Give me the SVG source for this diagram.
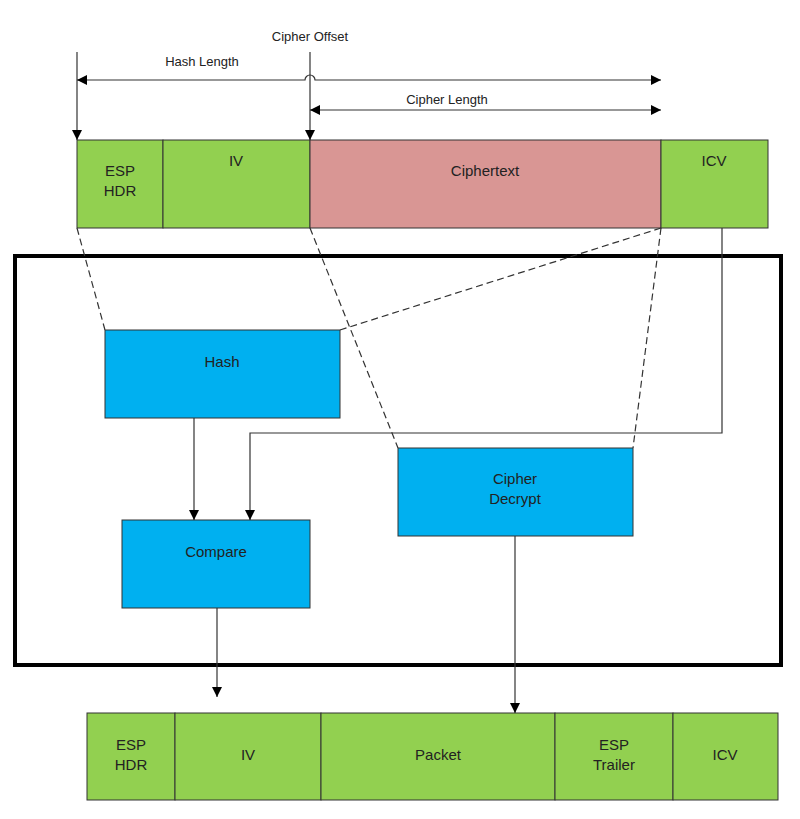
<svg xmlns="http://www.w3.org/2000/svg" width="800" height="819" viewBox="0 0 800 819">
<defs>
<marker id="a" viewBox="0 0 10 10" refX="10" refY="5" markerWidth="10" markerHeight="10" markerUnits="userSpaceOnUse" orient="auto-start-reverse"><path d="M0,0L10,5L0,10z" fill="#000"/></marker>
<style>
text{font-family:"Liberation Sans",Arial,sans-serif;font-size:15px;fill:#222;text-anchor:middle}
.g{fill:#92d050;stroke:#333;stroke-width:1}
.r{fill:#d99694;stroke:#333;stroke-width:1}
.b{fill:#00b0f0;stroke:#333;stroke-width:1}
.l{fill:none;stroke:#333;stroke-width:1.2}
.d{fill:none;stroke:#333;stroke-width:1.2;stroke-dasharray:7,4}
.s{font-size:13px}
</style>
</defs>
<rect x="15" y="256" width="766" height="409" fill="none" stroke="#000" stroke-width="4"/>
<g id="top">
<rect class="g" x="77" y="140" width="86" height="88"/><text x="120" y="176">ESP</text><text x="120" y="196">HDR</text>
<rect class="g" x="163" y="140" width="147" height="88"/><text x="236" y="166">IV</text>
<rect class="r" x="310" y="140" width="351" height="88"/><text x="485" y="176">Ciphertext</text>
<rect class="g" x="661" y="140" width="107" height="88"/><text x="714" y="166">ICV</text>
</g>
<g id="hash"><rect class="b" x="105" y="330" width="235" height="88"/><text x="222" y="367">Hash</text></g>
<g id="decrypt"><rect class="b" x="398" y="448" width="235" height="88"/><text x="515" y="484">Cipher</text><text x="515" y="504">Decrypt</text></g>
<g id="compare"><rect class="b" x="122" y="520" width="188" height="88"/><text x="216" y="557">Compare</text></g>
<g id="bottom">
<rect class="g" x="87" y="713" width="88" height="87"/><text x="131" y="750">ESP</text><text x="131" y="770">HDR</text>
<rect class="g" x="175" y="713" width="146" height="87"/><text x="248" y="760">IV</text>
<rect class="g" x="321" y="713" width="234" height="87"/><text x="438" y="760">Packet</text>
<rect class="g" x="555" y="713" width="118" height="87"/><text x="614" y="750">ESP</text><text x="614" y="770">Trailer</text>
<rect class="g" x="673" y="713" width="105" height="87"/><text x="725" y="760">ICV</text>
</g>
<g id="connectors">
<text class="s" x="310" y="41">Cipher Offset</text>
<text class="s" x="202" y="66">Hash Length</text>
<text class="s" x="447" y="104">Cipher Length</text>
<line class="l" x1="77" y1="52" x2="77" y2="140" marker-end="url(#a)"/>
<line class="l" x1="310" y1="52" x2="310" y2="140" marker-end="url(#a)"/>
<path class="l" d="M77,80H305A5,5 0 0 1 315,80H661" marker-start="url(#a)" marker-end="url(#a)"/>
<line class="l" x1="310" y1="110" x2="661" y2="110" marker-start="url(#a)" marker-end="url(#a)"/>
<line class="d" x1="77" y1="228" x2="105" y2="330"/>
<line class="d" x1="310" y1="228" x2="398" y2="448"/>
<line class="d" x1="661" y1="228" x2="340" y2="330"/>
<line class="d" x1="661" y1="228" x2="633" y2="448"/>
<path class="l" d="M722,228V433H250V520" marker-end="url(#a)"/>
<line class="l" x1="194" y1="418" x2="194" y2="520" marker-end="url(#a)"/>
<line class="l" x1="217" y1="608" x2="217" y2="697" marker-end="url(#a)"/>
<line class="l" x1="515" y1="536" x2="515" y2="713" marker-end="url(#a)"/>
</g>
</svg>
